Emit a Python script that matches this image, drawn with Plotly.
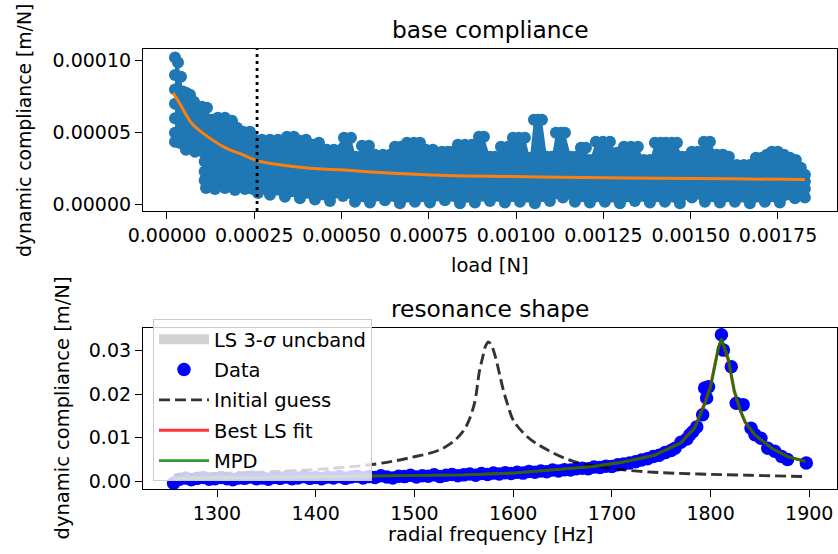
import plotly.graph_objects as go

# ---------------- top panel: base compliance (load in uN, compliance in um/N) ----------------
load_upper_uN = [22.9, 31.5, 40.1, 45.8, 54.4, 65.9, 77.3, 88.8, 100.2, 114.5,
                 128.9, 146.0, 166.1, 186.1, 200.5, 217.6, 237.7, 252.0, 272.1, 295.0,
                 317.9, 343.6, 363.7, 380.9, 398.1, 418.1, 435.3, 458.2, 478.2, 506.9,
                 526.9, 541.2, 558.4, 578.5, 595.6, 618.6, 638.6, 652.9, 670.1, 687.3,
                 707.3, 724.5, 741.7, 761.7, 773.2, 787.5, 804.7, 819.0, 833.3, 853.4,
                 873.4, 893.5, 907.8, 925.0, 939.3, 956.5, 976.5, 990.8, 1008.0, 1025.2,
                 1039.5, 1051.0, 1062.4, 1073.9, 1088.2, 1102.5, 1114.0, 1128.3, 1139.8, 1157.0,
                 1171.3, 1185.6, 1199.9, 1211.3, 1228.5, 1248.6, 1268.6, 1288.7, 1308.7, 1328.8,
                 1348.8, 1366.0, 1383.2, 1397.5, 1414.7, 1429.0, 1434.8, 1446.2, 1460.5, 1474.8,
                 1489.1, 1503.4, 1520.6, 1537.8, 1555.0, 1575.0, 1592.2, 1609.4, 1632.3, 1652.3,
                 1669.5, 1686.7, 1703.9, 1718.2, 1732.5, 1749.7, 1766.9, 1784.0, 1801.2, 1815.5,
                 1827.0]
comp_upper_um = [102.2, 98.7, 88.9, 78.5, 77.8, 76.4, 71.5, 64.6, 68.0, 67.3,
                 59.0, 60.4, 60.4, 58.3, 53.4, 50.6, 50.6, 45.1, 45.1, 45.1,
                 45.1, 47.1, 47.1, 44.4, 45.1, 41.6, 43.0, 38.1, 38.1, 46.4,
                 46.4, 33.2, 40.9, 40.9, 34.6, 34.6, 34.6, 40.2, 40.2, 43.0,
                 43.0, 43.0, 38.1, 38.1, 33.2, 36.7, 36.7, 36.7, 41.6, 41.6,
                 41.6, 47.1, 47.1, 33.2, 33.2, 40.2, 40.2, 46.4, 46.4, 46.4,
                 32.5, 59.0, 59.0, 59.0, 33.2, 33.2, 49.9, 49.9, 49.9, 33.2,
                 33.2, 39.5, 39.5, 31.1, 43.7, 43.7, 43.7, 36.0, 40.2, 40.2,
                 40.2, 31.1, 31.1, 43.0, 43.0, 43.0, 39.5, 43.0, 43.0, 33.2,
                 33.2, 36.7, 36.7, 43.7, 43.7, 34.6, 34.6, 33.2, 27.6, 27.6,
                 27.6, 32.5, 32.5, 34.6, 36.7, 36.7, 34.6, 32.5, 31.1, 25.6,
                 20.7]

load_lower_uN = [22.9, 37.2, 54.4, 80.2, 103.1, 111.7, 137.5, 166.1, 194.7, 223.4,
                 246.3, 260.6, 295.0, 337.9, 380.9, 423.8, 466.8, 504.0, 538.4, 581.3,
                 624.3, 667.2, 710.2, 753.2, 796.1, 839.1, 882.0, 925.0, 967.9, 1010.9,
                 1053.8, 1096.8, 1134.0, 1168.4, 1211.3, 1254.3, 1297.3, 1340.2, 1383.2, 1426.1,
                 1469.1, 1503.4, 1540.6, 1583.6, 1626.5, 1669.5, 1712.5, 1755.4, 1798.4, 1827.0]
comp_lower_um = [43.7, 42.9, 38.1, 36.7, 36.7, 11.6, 10.9, 11.6, 10.2, 10.9,
                 10.9, 8.1, 6.8, 5.5, 4.5, 3.5, 2.5, 6.0, 2.0, 1.5,
                 3.0, 1.0, 2.0, 1.5, 3.0, 1.0, 1.5, 2.5, 1.5, 2.0,
                 1.0, 2.5, 5.0, 2.0, 1.5, 2.0, 1.0, 2.5, 1.5, 2.0,
                 1.0, 5.0, 2.0, 1.5, 2.0, 1.0, 2.0, 1.5, 4.5, 5.0]

load_side_uN = [22.9, 22.9, 22.9, 22.9, 22.9, 108.0, 108.0, 108.0, 1827.0, 1827.0]
comp_side_um = [90.0, 80.0, 70.0, 60.0, 50.0, 30.0, 23.0, 17.0, 16.0, 11.0]

load_fit_uN = [17.2, 37.2, 54.4, 74.5, 122.3, 169.0, 217.6, 260.6, 312.1, 409.5,
               498.3, 610.0, 799.0, 996.6, 1191.3, 1406.1, 1612.3, 1827.0]
comp_fit_um = [77.6, 70.0, 62.5, 55.5, 46.2, 39.3, 34.6, 30.4, 28.1, 25.3,
               24.2, 22.3, 20.2, 19.5, 18.8, 18.4, 18.0, 17.4]

cutoff_load_N = 0.000258

# ---------------- bottom panel: resonance shape ----------------
freq_data = [1256, 1262, 1268, 1274, 1280, 1286, 1292, 1298, 1304, 1310,
             1316, 1322, 1328, 1334, 1340, 1346, 1352, 1358, 1364, 1370,
             1376, 1382, 1388, 1394, 1400, 1406, 1412, 1418, 1424, 1430,
             1436, 1442, 1448, 1454, 1460, 1466, 1472, 1478, 1484, 1490,
             1496, 1502, 1508, 1514, 1520, 1526, 1532, 1538, 1544, 1550,
             1556, 1562, 1568, 1574, 1580, 1586, 1592, 1598, 1604, 1610,
             1616, 1622, 1628, 1634, 1640, 1646, 1652, 1658, 1664, 1670,
             1676, 1682, 1688, 1694, 1700, 1706, 1712, 1718, 1724, 1730,
             1736, 1742, 1748, 1754, 1760, 1764, 1770, 1776, 1779, 1782,
             1786, 1792, 1794, 1796, 1798, 1811, 1813, 1821, 1826, 1833,
             1841, 1845, 1851, 1858, 1865, 1872, 1878, 1897]
comp_data = [-0.0004, 0.0005, 0.0008, 0.0004, 0.0007, 0.0009, 0.0005, 0.0006, 0.0009, 0.0006,
             0.0004, 0.0008, 0.0007, 0.0010, 0.0006, 0.0008, 0.0005, 0.0009, 0.0007, 0.0010,
             0.0006, 0.0008, 0.0011, 0.0007, 0.0009, 0.0006, 0.0010, 0.0008, 0.0011, 0.0007,
             0.0010, 0.0012, 0.0008, 0.0011, 0.0009, 0.0013, 0.0010, 0.0008, 0.0012, 0.0011,
             0.0014, 0.0010, 0.0013, 0.0012, 0.0015, 0.0011, 0.0014, 0.0016, 0.0013, 0.0015,
             0.0017, 0.0014, 0.0018, 0.0016, 0.0019, 0.0017, 0.0020, 0.0018, 0.0021, 0.0019,
             0.0023, 0.0021, 0.0024, 0.0022, 0.0026, 0.0024, 0.0027, 0.0026, 0.0029, 0.0030,
             0.0029, 0.0033, 0.0032, 0.0035, 0.0034, 0.0038, 0.0040, 0.0042, 0.0045, 0.0049,
             0.0052, 0.0057, 0.0060, 0.0066, 0.0071, 0.0076, 0.0090, 0.0097, 0.0107, 0.0114,
             0.0125, 0.0153, 0.0214, 0.0191, 0.0217, 0.0336, 0.0301, 0.0263, 0.0179, 0.0176,
             0.0122, 0.0107, 0.0099, 0.0076, 0.0069, 0.0057, 0.0050, 0.0042]

freq_guess = [1256, 1310, 1360, 1411, 1461, 1495, 1529, 1549, 1560, 1566,
              1569, 1572, 1575, 1578, 1582, 1586, 1590, 1595, 1600, 1614,
              1634, 1661, 1695, 1742, 1789, 1840, 1896]
comp_guess = [0.0015, 0.0019, 0.0023, 0.0029, 0.0040, 0.0054, 0.0076, 0.0114, 0.0172, 0.0255,
              0.0283, 0.0310, 0.0320, 0.0312, 0.0286, 0.0248, 0.0210, 0.0172, 0.0141, 0.0103,
              0.0073, 0.0046, 0.0031, 0.0021, 0.0017, 0.0014, 0.0011]

freq_fit = [1256, 1300, 1350, 1400, 1450, 1500, 1550, 1600, 1642, 1680,
            1710, 1743, 1770, 1784, 1794, 1800, 1804, 1808, 1811, 1814,
            1818, 1824, 1830, 1835, 1845, 1862, 1878, 1896]
comp_ls = [0.0007, 0.0008, 0.0009, 0.0010, 0.0012, 0.0013, 0.0015, 0.0019, 0.0026, 0.0034,
           0.0044, 0.0060, 0.0089, 0.0124, 0.0180, 0.0220, 0.0265, 0.0308, 0.0325, 0.0305,
           0.0276, 0.0205, 0.0162, 0.0135, 0.0106, 0.0076, 0.0057, 0.0046]
comp_mpd = [0.0007, 0.0008, 0.0009, 0.0010, 0.0012, 0.0013, 0.0015, 0.0019, 0.0026, 0.0034,
            0.0044, 0.0059, 0.0088, 0.0122, 0.0176, 0.0215, 0.0260, 0.0305, 0.0328, 0.0310,
            0.0282, 0.0210, 0.0165, 0.0137, 0.0107, 0.0076, 0.0057, 0.0046]
band_lo = [0.0004, 0.0005, 0.0006, 0.0007, 0.0009, 0.0010, 0.0012, 0.0016, 0.0023, 0.0031,
           0.0041, 0.0056, 0.0084, 0.0117, 0.0170, 0.0209, 0.0254, 0.0298, 0.0320, 0.0300,
           0.0273, 0.0203, 0.0159, 0.0132, 0.0103, 0.0073, 0.0054, 0.0043]
band_hi = [0.0010, 0.0011, 0.0012, 0.0013, 0.0015, 0.0016, 0.0018, 0.0022, 0.0029, 0.0037,
           0.0047, 0.0062, 0.0093, 0.0128, 0.0184, 0.0224, 0.0270, 0.0314, 0.0333, 0.0316,
           0.0288, 0.0214, 0.0170, 0.0141, 0.0110, 0.0079, 0.0060, 0.0049]

# unit conversion
uN = 1e-6
up_x = [v * uN for v in load_upper_uN]
up_y = [v * uN for v in comp_upper_um]
lo_x = [v * uN for v in load_lower_uN]
lo_y = [v * uN for v in comp_lower_um]
sd_x = [v * uN for v in load_side_uN]
sd_y = [v * uN for v in comp_side_um]
fit_x = [v * uN for v in load_fit_uN]
fit_y = [v * uN for v in comp_fit_um]

BLUE = "#1f77b4"
GRAY = "#d3d3d3"
FONT = "DejaVu Sans"

fig = go.Figure()

# top: scatter cloud (area between envelopes + markers on envelopes)
fig.add_trace(go.Scatter(x=up_x + lo_x[::-1], y=up_y + lo_y[::-1], mode="lines",
                         fill="toself", fillcolor=BLUE, line=dict(width=0, color=BLUE),
                         showlegend=False, hoverinfo="skip", xaxis="x", yaxis="y"))
fig.add_trace(go.Scatter(x=up_x + lo_x + sd_x, y=up_y + lo_y + sd_y, mode="markers",
                         marker=dict(color=BLUE, size=12, line=dict(width=0)),
                         showlegend=False, xaxis="x", yaxis="y"))
fig.add_trace(go.Scatter(x=fit_x, y=fit_y, mode="lines",
                         line=dict(color="#ff7f0e", width=3, shape="spline"),
                         showlegend=False, xaxis="x", yaxis="y"))
fig.add_shape(type="line", xref="x", yref="y domain", x0=cutoff_load_N, x1=cutoff_load_N,
              y0=0, y1=1, line=dict(color="black", width=2.8, dash="3px,4px"))

# bottom
fig.add_trace(go.Scatter(x=freq_fit + freq_fit[::-1], y=band_hi + band_lo[::-1], mode="lines",
                         fill="toself", fillcolor=GRAY, line=dict(width=0, color=GRAY),
                         showlegend=False, hoverinfo="skip", xaxis="x2", yaxis="y2"))
# legend-only entry for the band (rectangle-like patch)
fig.add_trace(go.Scatter(x=[None], y=[None], mode="lines", name="LS 3-<i>σ</i> uncband",
                         line=dict(color=GRAY, width=14), legendgroup="a",
                         xaxis="x2", yaxis="y2"))
fig.add_trace(go.Scatter(x=freq_data, y=comp_data, mode="markers", name="Data",
                         marker=dict(color="#0000ff", size=13.5, line=dict(width=0)),
                         legendgroup="b", xaxis="x2", yaxis="y2"))
fig.add_trace(go.Scatter(x=freq_guess, y=comp_guess, mode="lines", name="Initial guess",
                         line=dict(color="rgba(0,0,0,0.8)", width=2.9, dash="11px,5px", shape="spline"),
                         legendgroup="c", xaxis="x2", yaxis="y2"))
fig.add_trace(go.Scatter(x=freq_fit, y=comp_ls, mode="lines", name="Best LS fit",
                         line=dict(color="rgba(255,0,0,0.8)", width=2.9),
                         legendgroup="d", xaxis="x2", yaxis="y2"))
fig.add_trace(go.Scatter(x=freq_fit, y=comp_mpd, mode="lines", name="MPD",
                         line=dict(color="rgba(0,128,0,0.8)", width=2.9),
                         legendgroup="e", xaxis="x2", yaxis="y2"))

axis_common = dict(showline=True, mirror=True, linecolor="black", linewidth=1.2,
                   ticks="outside", ticklen=7, tickwidth=1.2, tickcolor="black",
                   showgrid=False, zeroline=False,
                   tickfont=dict(family=FONT, size=19, color="black"))

H = 440.0  # plot-area height in px (554 - 49 - 65)
W = 694.0

fig.update_layout(
    width=838, height=554,
    margin=dict(l=143, r=1, t=49, b=65),
    paper_bgcolor="white", plot_bgcolor="white",
    font=dict(family=FONT, color="black"),
    xaxis=dict(domain=[0, 1], anchor="y", range=[-0.0000687, 0.001919], tick0=0, dtick=0.00025,
               tickformat=".5f", **axis_common),
    yaxis=dict(domain=[(489 - 211) / H, 1], anchor="x", range=[-0.0000044, 0.0001081], tick0=0,
               dtick=0.00005, tickformat=".5f", **axis_common),
    xaxis2=dict(domain=[0, 1], anchor="y2", range=[1225, 1928.1], tick0=0, dtick=100, **axis_common),
    yaxis2=dict(domain=[0, (489 - 327.7) / H], anchor="x2", range=[-0.00174, 0.03524], tick0=0,
                dtick=0.01, tickformat=".2f", **axis_common),
    legend=dict(x=(153 - 143) / W, y=(489 - 319) / H, xanchor="left", yanchor="top",
                bgcolor="rgba(255,255,255,0.8)", bordercolor="#cccccc", borderwidth=1,
                font=dict(family=FONT, size=19.5, color="black"), itemwidth=50,
                tracegroupgap=2, traceorder="grouped"),
    annotations=[
        dict(text="base compliance", xref="paper", yref="paper", x=0.5, y=(489 - 30) / H,
             showarrow=False, font=dict(size=23.3), xanchor="center", yanchor="middle"),
        dict(text="resonance shape", xref="paper", yref="paper", x=0.5, y=(489 - 308) / H,
             showarrow=False, font=dict(size=23.3), xanchor="center", yanchor="middle"),
        dict(text="load [N]", xref="paper", yref="paper", x=0.5, y=(489 - 265) / H,
             showarrow=False, font=dict(size=19.5), xanchor="center", yanchor="middle"),
        dict(text="radial frequency [Hz]", xref="paper", yref="paper", x=0.5, y=(489 - 534) / H,
             showarrow=False, font=dict(size=19.5), xanchor="center", yanchor="middle"),
        dict(text="dynamic compliance [m/N]", xref="paper", yref="paper", x=(24 - 143) / W,
             y=(489 - 131) / H, showarrow=False, font=dict(size=18.8), textangle=-90,
             xanchor="center", yanchor="middle"),
        dict(text="dynamic compliance [m/N]", xref="paper", yref="paper", x=(62 - 143) / W,
             y=(489 - 408.5) / H, showarrow=False, font=dict(size=19.5), textangle=-90,
             xanchor="center", yanchor="middle"),
    ],
)

fig.write_html("out.html")
